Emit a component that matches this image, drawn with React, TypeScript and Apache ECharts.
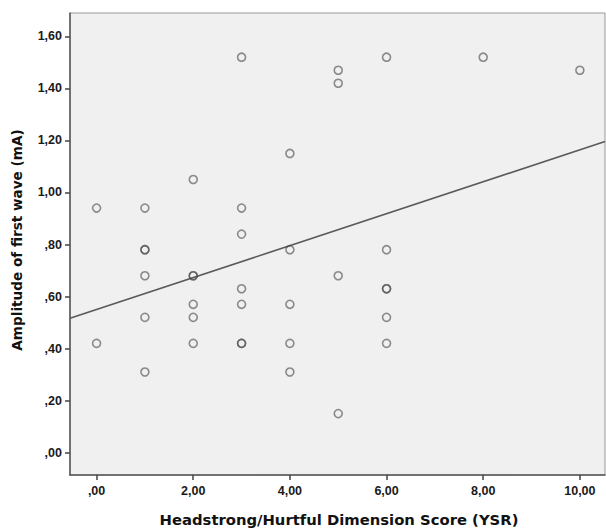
import React, { useEffect, useRef } from "react";
import * as echarts from "echarts";

const xValues: number[] = [
  0, 0,
  1, 1, 1, 1, 1, 1,
  2, 2, 2, 2, 2, 2,
  3, 3, 3, 3, 3, 3, 3,
  4, 4, 4, 4, 4,
  5, 5, 5, 5,
  6, 6, 6, 6, 6, 6,
  8,
  10,
];
const yValues: number[] = [
  0.94, 0.42,
  0.94, 0.78, 0.78, 0.68, 0.52, 0.31,
  1.05, 0.68, 0.68, 0.57, 0.52, 0.42,
  1.52, 0.94, 0.84, 0.63, 0.57, 0.42, 0.42,
  1.15, 0.78, 0.57, 0.42, 0.31,
  1.47, 1.42, 0.68, 0.15,
  1.52, 0.78, 0.63, 0.63, 0.52, 0.42,
  1.52,
  1.47,
];
const xTicks: number[] = [0, 2, 4, 6, 8, 10];
const yTicks: number[] = [0, 0.2, 0.4, 0.6, 0.8, 1.0, 1.2, 1.4, 1.6];
const xMin = -0.55;
const xMax = 10.52;
const yMin = -0.086;
const yMax = 1.69;
const xTitle = "Headstrong/Hurtful Dimension Score (YSR)";
const yTitle = "Amplitude of first wave (mA)";

const fmt = (v: number) => {
  let s = v.toFixed(2).replace(".", ",");
  if (s.startsWith("0,")) s = s.slice(1);
  return s;
};

function fit(xs: number[], ys: number[]) {
  const n = xs.length;
  const mx = xs.reduce((a, b) => a + b, 0) / n;
  const my = ys.reduce((a, b) => a + b, 0) / n;
  let sxy = 0, sxx = 0;
  for (let i = 0; i < n; i++) {
    sxy += (xs[i] - mx) * (ys[i] - my);
    sxx += (xs[i] - mx) * (xs[i] - mx);
  }
  const slope = sxy / sxx;
  return { slope, intercept: my - slope * mx };
}

export default function App() {
  const ref = useRef<HTMLDivElement>(null);
  useEffect(() => {
    if (!ref.current) return;
    const chart = echarts.init(ref.current, null, { renderer: "svg" });
    const { slope, intercept } = fit(xValues, yValues);
    const pts = xValues.map((x, i) => [x, yValues[i]]);
    const linePts = [xMin, xMax].map((x) => [x, intercept + slope * x]);
    const labelStyle = {
      color: "#1a1a1a",
      fontFamily: "Liberation Sans, Arial, sans-serif",
      fontSize: 12.5,
      fontWeight: "bold" as const,
    };
    const titleFont = {
      fill: "#111",
      fontFamily: "DejaVu Sans, Verdana, sans-serif",
      fontWeight: "bold",
      align: "center",
      verticalAlign: "middle",
    };
    chart.setOption({
      animation: false,
      backgroundColor: "#ffffff",
      grid: {
        left: 70,
        top: 13,
        right: 1,
        bottom: 54,
        outerBoundsMode: "none",
        containLabel: false,
        show: true,
        backgroundColor: "#f0f0f0",
        borderColor: "#999",
        borderWidth: 1,
      },
      graphic: [
        {
          type: "text",
          x: 339,
          y: 519,
          style: { text: xTitle, fontSize: 14.8, ...titleFont },
        },
        {
          type: "text",
          x: 17,
          y: 240,
          rotation: Math.PI / 2,
          style: { text: yTitle, fontSize: 13.6, ...titleFont },
        },
      ],
      xAxis: {
        type: "value",
        min: xMin,
        max: xMax,
        splitLine: { show: false },
        axisLine: { show: true, onZero: false, lineStyle: { color: "#555", width: 1.5 } },
        axisTick: {
          show: true,
          length: 5,
          inside: false,
          customValues: xTicks,
          lineStyle: { color: "#444", width: 1.5 },
        },
        axisLabel: { ...labelStyle, margin: 9, customValues: xTicks, formatter: (v: number) => fmt(v) },
      },
      yAxis: {
        type: "value",
        min: yMin,
        max: yMax,
        splitLine: { show: false },
        axisLine: { show: true, onZero: false, lineStyle: { color: "#555", width: 1.5 } },
        axisTick: {
          show: true,
          length: 5,
          inside: false,
          customValues: yTicks,
          lineStyle: { color: "#444", width: 1.5 },
        },
        axisLabel: { ...labelStyle, margin: 8, customValues: yTicks, formatter: (v: number) => fmt(v) },
      },
      series: [
        {
          type: "line",
          data: linePts,
          symbol: "none",
          silent: true,
          lineStyle: { color: "#5a5a5a", width: 1.6 },
          z: 2,
        },
        {
          type: "scatter",
          data: pts,
          symbol: "circle",
          symbolSize: 8,
          itemStyle: {
            color: "rgba(0,0,0,0)",
            borderColor: "rgba(70,70,70,0.75)",
            borderWidth: 1.6,
          },
          z: 3,
        },
      ],
    });
    return () => chart.dispose();
  }, []);
  return (
    <div
      ref={ref}
      style={{ position: "fixed", left: 0, top: 0, width: 606, height: 529 }}
    />
  );
}
